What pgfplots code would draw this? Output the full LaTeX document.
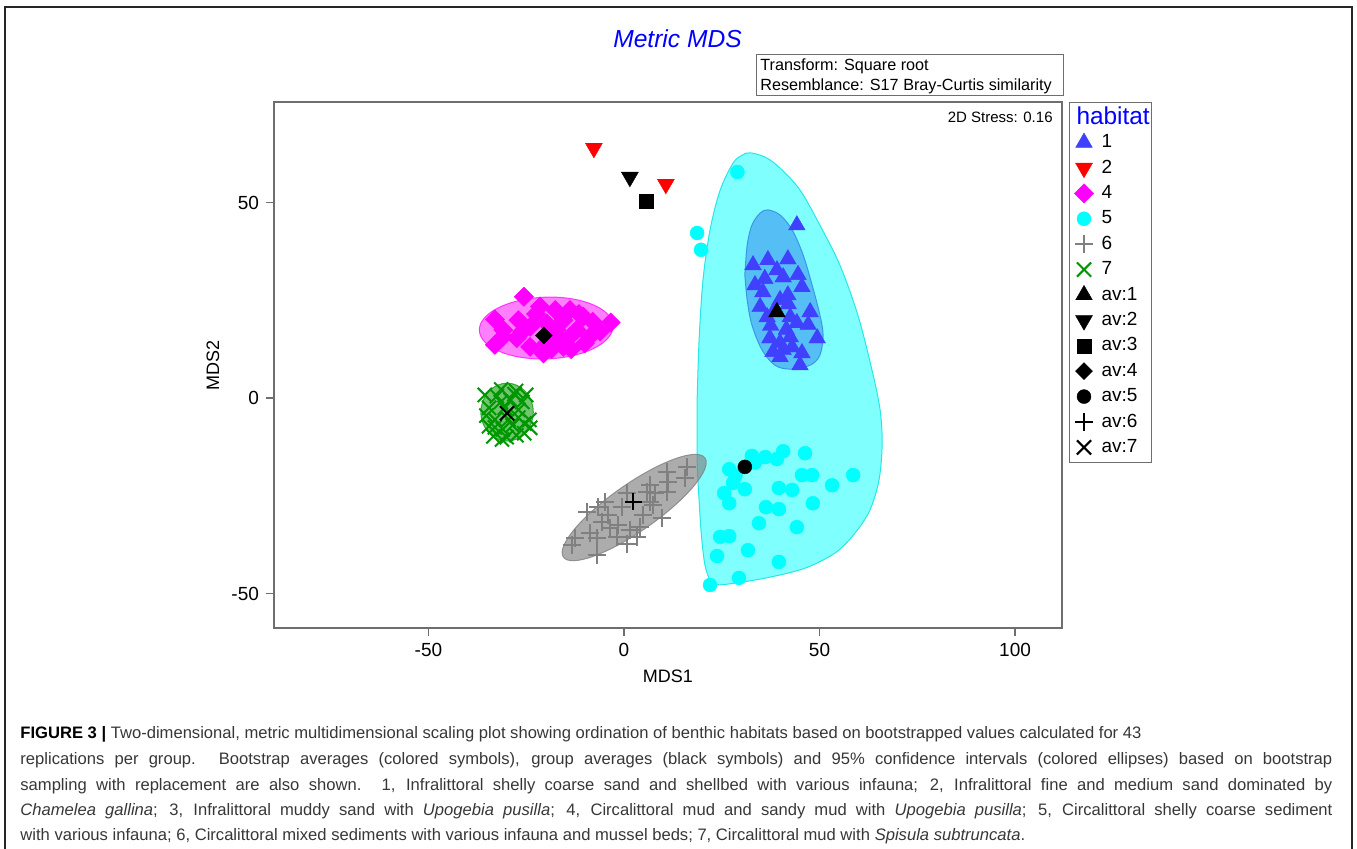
\documentclass[border=0pt]{standalone}
\usepackage{fontspec}
\setmainfont{Liberation Sans}
\newfontfamily\capfont{Liberation Sans}
\usepackage{pgfplots}
\pgfplotsset{compat=1.18}
\definecolor{cgA}{RGB}{64,64,255}
\definecolor{cgB}{RGB}{255,0,0}
\definecolor{cgD}{RGB}{255,0,255}
\definecolor{cgE}{RGB}{0,255,255}
\definecolor{cgEf}{RGB}{128,255,255}
\definecolor{cgEd}{RGB}{40,230,230}
\definecolor{cgAf}{RGB}{85,190,245}
\definecolor{cgAd}{RGB}{60,150,230}
\definecolor{cgF}{RGB}{128,128,128}
\definecolor{cgG}{RGB}{0,150,0}
\definecolor{capgray}{RGB}{55,55,55}
\definecolor{axgray}{RGB}{110,110,110}
\pgfplotsset{
  mylegimg/.style={legend image code/.code={\draw[##1] plot coordinates {(0pt,0pt)};\path (-6pt,0pt) (6pt,0pt);}},
  g1/.style={only marks, mark=triangle*, mark size=4.8pt, mark options={fill=cgA,draw=cgA,line width=0.2pt}, mylegimg},
  g2/.style={only marks, mark=triangle*, mark size=4.9pt, mark options={rotate=180,fill=cgB,draw=cgB,line width=0.2pt}, mylegimg},
  g4/.style={only marks, mark=square*, mark size=3.4pt, mark options={rotate=45,fill=cgD,draw=cgD,line width=0.2pt}, mylegimg},
  g5/.style={only marks, mark=*, mark size=3.5pt, mark options={fill=cgE,draw=cgE,line width=0.2pt}, mylegimg},
  g6/.style={only marks, mark=+, mark size=4.5pt, mark options={draw=cgF,line width=1pt}, mylegimg},
  g7/.style={only marks, mark=x, mark size=5.0pt, mark options={draw=cgG,line width=1pt}, mylegimg},
  a1/.style={only marks, mark=triangle*, mark size=4.8pt, mark options={fill=black,draw=black,line width=0.2pt}, mylegimg},
  a2/.style={only marks, mark=triangle*, mark size=4.9pt, mark options={rotate=180,fill=black,draw=black,line width=0.2pt}, mylegimg},
  a3/.style={only marks, mark=square*, mark size=3.5pt, mark options={fill=black,draw=black,line width=0.2pt}, mylegimg},
  a4/.style={only marks, mark=square*, mark size=3.0pt, mark options={rotate=45,fill=black,draw=black,line width=0.2pt}, mylegimg},
  a5/.style={only marks, mark=*, mark size=3.5pt, mark options={fill=black,draw=black,line width=0.2pt}, mylegimg},
  a6/.style={only marks, mark=+, mark size=4.3pt, mark options={draw=black,line width=1pt}, mylegimg},
  a7/.style={only marks, mark=x, mark size=5.0pt, mark options={draw=black,line width=1pt}, mylegimg},
}
\begin{document}
\begin{tikzpicture}
\useasboundingbox (0,0) rectangle (678.5pt,-424.5pt);
\draw[line width=0.8pt, black!85] (2.5pt,-424.5pt) -- (2.5pt,-3.5pt) -- (676pt,-3.5pt) -- (676pt,-424.5pt);
\node[font=\fontsize{12.3}{14}\selectfont\itshape, text=blue, inner sep=0pt] at (338.75pt,-19.5pt) {Metric MDS};
\draw[axgray, line width=0.5pt] (378pt,-27.5pt) rectangle (531.5pt,-48pt);
\node[anchor=base west, font=\fontsize{8.1}{10}\selectfont, inner sep=0pt] at (380pt,-35.2pt) {Transform: Square root};
\node[anchor=base west, font=\fontsize{8.1}{10}\selectfont, inner sep=0pt] at (380pt,-45.2pt) {Resemblance: S17 Bray-Curtis similarity};
\begin{axis}[
  at={(137pt,-51pt)}, anchor=north west,
  width=394pt, height=263pt, scale only axis,
  xmin=-89.5, xmax=112, ymin=-58.8, ymax=75.7,
  xtick={-50,0,50,100}, ytick={-50,0,50},
  xtick pos=left, ytick pos=left,
  tick align=outside, major tick length=4pt,
  axis line style={axgray, line width=0.6pt},
  tick style={axgray, line width=0.6pt},
  /pgf/number format/assume math mode=true,
  tick label style={font=\fontsize{9.5}{11}\selectfont},
  xlabel={MDS1}, ylabel={MDS2},
  label style={font=\fontsize{9}{11}\selectfont},
  x label style={at={(axis description cs:0.5,-0.0913)},anchor=center},
  y label style={at={(axis description cs:-0.0774,0.5)},anchor=center},
  legend cell align=left,
  legend style={at={(1.0089,1)}, anchor=north west, draw=axgray, line width=0.5pt, fill=white,
    font=\fontsize{9.5}{11}\selectfont, inner sep=1pt, row sep=0pt, column sep=2.5pt,
    nodes={inner sep=0pt, minimum height=12.7pt}},
]
% confidence regions
\addplot[fill=cgEf, draw=cgEd, line width=0.5pt, smooth, tension=0.55, forget plot] coordinates {
(18.7,-0.5) (18.7,-15.9) (19.2,-26.1) (19.9,-36.3) (21.0,-44.0) (23.3,-47.6) (29.7,-47.1)
(37.3,-45.8) (46.3,-43.5) (54.0,-39.6) (59.1,-34.5) (62.9,-28.6) (65.2,-21.0) (66.0,-12.0)
(65.5,-3.1) (63.4,7.2) (59.8,21.2) (55.2,34.0) (50.1,44.2) (45.0,53.2) (39.9,58.8) (36.1,61.6)
(32.2,62.7) (30.2,62.1) (27.9,60.1) (24.6,53.2) (22.0,43.0) (20.2,30.2) (19.2,14.8) (18.7,-0.5)
} -- cycle;
\addplot[fill=cgAf, draw=cgAd, line width=0.5pt, smooth, tension=0.55, forget plot] coordinates {
(30.9,31.5) (31.5,25.1) (32.7,18.7) (35.3,12.3) (38.6,8.4) (42.5,7.4) (47.6,8.4) (50.1,11.0)
(50.9,16.1) (50.1,21.2) (48.1,28.9) (45.8,36.6) (43.0,43.0) (39.9,46.8) (36.8,48.1) (34.8,47.3)
(32.7,44.2) (31.5,39.1) (30.9,31.5)
} -- cycle;
\draw[cgD, fill=cgD, fill opacity=0.5, draw opacity=0.7, line width=0.5pt, rotate around={2:(axis cs:-19.9,17.9)}] (axis cs:-19.9,17.9) ellipse [x radius=17.1, y radius=7.9];
\draw[cgG, fill=cgG, fill opacity=0.55, draw opacity=0.7, line width=0.5pt] (axis cs:-29.9,-3.6) ellipse [x radius=6.7, y radius=7.4];
\draw[cgF, fill=cgF, fill opacity=0.65, draw opacity=0.8, line width=0.5pt, rotate around={35:(axis cs:2.6,-28.0)}] (axis cs:2.6,-28.0) ellipse [x radius=22.1, y radius=6.0];
% legend title
\addlegendimage{empty legend}
\addlegendentry{\hspace*{-12.5pt}\textcolor{blue}{\fontsize{12.2}{14}\selectfont habitat}}
% group 1
\addplot[g1] coordinates {
(44.2,44.2) (33.0,34.0) (36.8,35.3) (41.9,35.5) (39.1,32.7) (40.7,30.9) (44.5,31.5) (33.5,28.9)
(35.5,27.1) (45.5,28.4) (41.9,26.3) (39.9,25.1) (34.8,23.3) (47.6,22.0) (42.5,20.7) (36.6,20.7)
(44.2,19.2) (47.1,18.7) (37.3,15.3) (39.9,14.1) (42.5,15.6) (49.4,15.3) (38.1,11.8) (40.7,12.3)
(45.5,11.5) (39.9,10.5) (45.0,8.4) (37.5,18.5) (41.5,17.5) (43.0,13.0) (38.5,22.5) (42.0,24.0) (36.0,30.5)
};
\addlegendentry{1}
% group 2
\addplot[g2] coordinates {(-7.7,63.9) (10.7,54.7)};
\addlegendentry{2}
% group 4
\addplot[g4] coordinates {
(-25.6,25.9) (-33.0,20.1) (-3.4,19.3) (-6.1,17.0) (-33.0,13.6) (-20.6,11.4) (-27.4,15.3) (-27.0,19.9)
(-21.5,23.4) (-17.6,22.5) (-13.8,22.5) (-10.4,20.8) (-15.5,19.9) (-12.1,17.4) (-10.0,14.0) (-15.5,13.1)
(-19.8,14.0) (-24.0,13.1) (-30.9,15.7) (-24.0,18.2) (-17.2,17.4) (-13.8,15.7) (-8.7,15.7) (-19.8,19.1)
(-30.9,17.4) (-22.5,21.5) (-16.5,15.0) (-11.5,21.5) (-8.0,19.5) (-26.0,17.0) (-18.5,12.5) (-13.5,12.5)
};
\addlegendentry{4}
% group 5
\addplot[g5] coordinates {
(29.0,57.8) (18.7,42.2) (19.7,37.9)
(26.9,-18.2) (32.7,-14.8) (36.1,-15.1) (40.7,-13.6) (39.1,-15.6) (46.3,-14.1) (27.9,-21.7) (25.6,-24.3)
(26.9,-26.9) (30.9,-23.3) (39.6,-23.0) (43.0,-23.5) (45.5,-19.7) (48.1,-19.7) (53.2,-22.3) (58.6,-19.7)
(36.3,-27.9) (39.6,-28.4) (48.3,-26.9) (34.5,-32.0) (44.2,-33.0) (24.6,-35.5) (26.9,-35.3) (23.8,-40.4)
(31.7,-38.9) (39.6,-41.9) (29.4,-46.0) (22.0,-47.8) (33.5,-16.5) (28.5,-19.8)
};
\addlegendentry{5}
% group 6
\addplot[g6] coordinates {
(16.0,-17.6) (15.6,-20.5) (10.9,-18.8) (11.3,-21.4) (6.6,-22.3) (5.8,-24.0) (7.9,-24.4) (10.9,-24.0)
(6.6,-26.5) (0.7,-24.4) (-0.6,-27.8) (-4.9,-26.5) (-6.6,-27.8) (-9.5,-29.1) (-4.0,-29.9) (-5.7,-31.6)
(-3.6,-33.3) (-1.5,-32.5) (1.5,-33.8) (4.1,-32.9) (4.9,-29.9) (9.6,-30.8) (7.5,-27.4) (-1.9,-35.5)
(0.7,-37.2) (-7.0,-35.9) (-12.5,-35.9) (-13.4,-37.6) (-7.0,-40.2) (-8.7,-34.6) (3.2,-35.5)
};
\addlegendentry{6}
% group 7
\addplot[g7] coordinates {
(-35.6,0.8) (-33.4,-9.8) (-24.2,-5.6) (-25.0,0.8) (-31.4,2.2) (-27.6,1.8) (-24.0,-7.6) (-34.5,-2.5)
(-33.0,-5.5) (-31.5,-1.0) (-29.0,-0.5) (-27.0,-3.0) (-25.5,-6.5) (-28.5,-7.0) (-31.0,-8.0) (-30.0,-10.0)
(-27.5,-9.5) (-35.2,-4.5) (-32.5,0.5) (-26.0,-1.0) (-29.5,-5.5) (-33.0,-7.5) (-25.5,-9.0) (-30.5,-2.5)
(-28.0,1.0) (-34.5,-7.2) (-31.2,-10.6) (-27.0,-5.0)
};
\addlegendentry{7}
% averages
\addplot[a1] coordinates {(39.1,22.0)};
\addlegendentry{av:1}
\addplot[a2] coordinates {(1.5,56.5)};
\addlegendentry{av:2}
\addplot[a3] coordinates {(5.6,50.4)};
\addlegendentry{av:3}
\addplot[a4] coordinates {(-20.5,16.0)};
\addlegendentry{av:4}
\addplot[a5] coordinates {(30.9,-17.6)};
\addlegendentry{av:5}
\addplot[a6] coordinates {(2.4,-26.5)};
\addlegendentry{av:6}
\addplot[a7] coordinates {(-29.9,-3.9)};
\addlegendentry{av:7}
\end{axis}
\node[anchor=base east, font=\fontsize{7.5}{9}\selectfont, inner sep=0pt] at (526.5pt,-61.2pt) {2D Stress: 0.16};
\begin{scope}[every node/.style={anchor=base west, inner sep=0pt, text=capgray, font=\capfont\fontsize{8.3}{10}\selectfont}]
\node at (10pt,-369.5pt) {\textbf{\textcolor{black}{FIGURE 3 |}} Two-dimensional, metric multidimensional scaling plot showing ordination of benthic habitats based on bootstrapped values calculated for 43};
\node at (10pt,-382.5pt) {\makebox[656pt][s]{replications per group. Bootstrap averages (colored symbols), group averages (black symbols) and 95\% confidence intervals (colored ellipses) based on bootstrap}};
\node at (10pt,-395.5pt) {\makebox[656pt][s]{sampling with replacement are also shown. 1, Infralittoral shelly coarse sand and shellbed with various infauna; 2, Infralittoral fine and medium sand dominated by}};
\node at (10pt,-408pt) {\makebox[656pt][s]{\textit{Chamelea gallina}; 3, Infralittoral muddy sand with \textit{Upogebia pusilla}; 4, Circalittoral mud and sandy mud with \textit{Upogebia pusilla}; 5, Circalittoral shelly coarse sediment}};
\node at (10pt,-420.5pt) {with various infauna; 6, Circalittoral mixed sediments with various infauna and mussel beds; 7, Circalittoral mud with \textit{Spisula subtruncata}.};
\end{scope}
\end{tikzpicture}
\end{document}
